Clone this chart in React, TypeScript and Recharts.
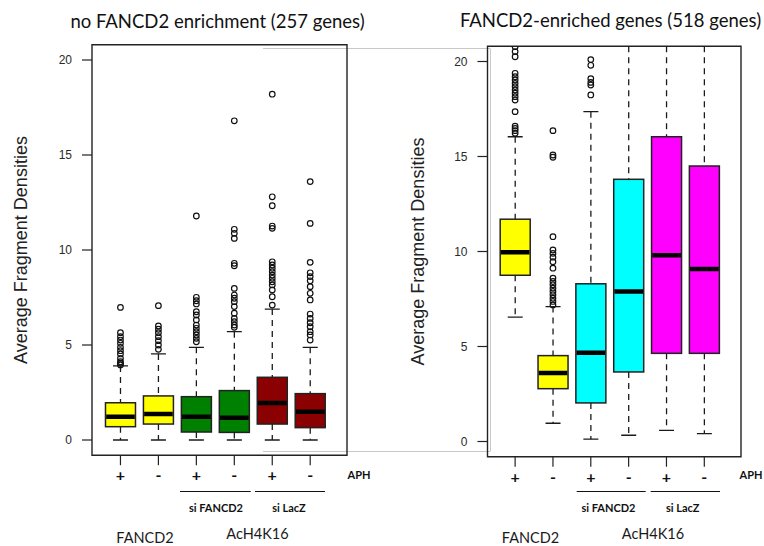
import React from 'react';
import { ComposedChart, Bar, Scatter, XAxis, YAxis, ReferenceArea } from 'recharts';

const positions = [1, 2, 3, 4, 5, 6];
const aphLabels = ['+', '-', '+', '-', '+', '-'];
const yTicks = [0, 5, 10, 15, 20];
const Y_DOMAIN: [number, number] = [-0.8, 20.8];

// no FANCD2 enrichment (257 genes)
const leftColors = ['#ffff00', '#ffff00', '#008000', '#008000', '#8b0000', '#8b0000'];
const leftLower = [0, 0, 0, 0, 0, 0];
const leftQ1 = [0.7, 0.84, 0.42, 0.4, 0.84, 0.65];
const leftMedian = [1.23, 1.37, 1.23, 1.17, 1.95, 1.49];
const leftQ3 = [1.96, 2.32, 2.28, 2.6, 3.3, 2.44];
const leftUpper = [3.9, 4.53, 4.88, 5.7, 6.89, 4.88];
const leftOutliers = [
  [3.95, 4.04, 4.12, 4.3, 4.53, 4.7, 4.88, 5.09, 5.26, 5.44, 5.65, 6.98],
  [4.77, 5.0, 5.23, 5.44, 5.65, 5.83, 6.0, 7.07],
  [5.17, 5.35, 5.53, 5.7, 5.88, 6.05, 6.32, 6.58, 6.75, 7.16, 7.33, 7.51, 11.79],
  [5.93, 6.05, 6.23, 6.4, 6.67, 7.02, 7.28, 7.46, 7.63, 7.98, 9.17, 9.3, 10.61, 10.88, 11.09, 16.8],
  [7.1, 7.54, 7.9, 8.16, 8.33, 8.51, 8.68, 8.86, 9.04, 9.21, 9.38, 11.14, 11.26, 12.33, 12.8, 18.2],
  [5.26, 5.53, 5.7, 5.96, 6.17, 6.4, 6.63, 7.37, 7.72, 8.07, 8.38, 8.6, 8.8, 9.35, 11.4, 13.6],
];

// FANCD2-enriched genes (518 genes)
const rightColors = ['#ffff00', '#ffff00', '#00ffff', '#00ffff', '#ff00ff', '#ff00ff'];
const rightLower = [6.55, 0.96, 0.12, 0.33, 0.59, 0.41];
const rightQ1 = [8.75, 2.78, 2.03, 3.66, 4.64, 4.64];
const rightMedian = [9.96, 3.6, 4.67, 7.9, 9.8, 9.08];
const rightQ3 = [11.7, 4.52, 8.3, 13.8, 16.04, 14.5];
const rightUpper = [16.04, 7.1, 17.36, 24, 26, 25]; // last three run off the top
const rightOutliers = [
  [16.22, 16.36, 16.48, 16.6, 17.36, 17.97, 18.15, 18.33, 18.5, 18.68, 18.85, 19.03, 19.2, 19.38, 20.25, 20.52, 20.78],
  [7.19, 7.37, 7.54, 7.72, 7.9, 8.07, 8.25, 8.42, 8.6, 9.12, 9.46, 9.7, 9.9, 10.08, 10.78, 14.96, 15.08, 16.36],
  [18.24, 18.76, 18.9, 19.1, 19.8, 20.1],
  [],
  [],
  [],
];

const buildBoxes = (colors: string[], lo: number[], q1: number[], med: number[], q3: number[], hi: number[]) =>
  positions.map((pos, i) => ({
    pos,
    range: [q1[i], q3[i]],
    q1: q1[i],
    q3: q3[i],
    median: med[i],
    lo: lo[i],
    hi: hi[i],
    fill: colors[i],
  }));

const buildOutliers = (lists: number[][]) =>
  lists.flatMap((vals, i) => vals.map(v => ({ pos: positions[i], v })));

const BoxShape = (props: any) => {
  const { x, y, width, height, payload } = props;
  if (x == null || y == null || !payload) return null;
  const top = Math.min(y, y + height);
  const h = Math.abs(height);
  // linear y scale, read back from the bar the library placed
  const ppu = h / (payload.q3 - payload.q1);
  const toY = (v: number) => top + (payload.q3 - v) * ppu;
  const cx = x + width / 2;
  const cap = width / 2;
  const clipHi = payload.hi > Y_DOMAIN[1];
  const yHi = toY(clipHi ? Y_DOMAIN[1] : payload.hi);
  const yLo = toY(payload.lo);
  const yMed = toY(payload.median);
  const ink = '#1a1a1a';
  return (
    <g>
      <line x1={cx} x2={cx} y1={yHi} y2={top} stroke={ink} strokeWidth={1.3} strokeDasharray="6 5" />
      <line x1={cx} x2={cx} y1={top + h} y2={yLo} stroke={ink} strokeWidth={1.3} strokeDasharray="6 5" />
      {!clipHi && <line x1={cx - cap / 2} x2={cx + cap / 2} y1={yHi} y2={yHi} stroke={ink} strokeWidth={1.3} />}
      <line x1={cx - cap / 2} x2={cx + cap / 2} y1={yLo} y2={yLo} stroke={ink} strokeWidth={1.3} />
      <rect x={x} y={top} width={width} height={h} fill={payload.fill} stroke="#222" strokeWidth={1.5} />
      <line x1={x + 0.7} x2={x + width - 0.7} y1={yMed} y2={yMed} stroke="#000" strokeWidth={4.5} />
    </g>
  );
};

const OutlierDot = (props: any) => {
  const { cx, cy } = props;
  if (cx == null || cy == null) return null;
  return <circle cx={cx} cy={cy} r={2.8} fill="none" stroke="#111" strokeWidth={1.2} />;
};

const AphTick = (props: any) => {
  const { x, y, payload } = props;
  return (
    <text x={x} y={y} dy={14} textAnchor="middle" fontSize={16} fontWeight={700} fontFamily="Lato, sans-serif" fill="#111">
      {aphLabels[payload.value - 1]}
    </text>
  );
};

interface PanelProps {
  left: number;
  width: number;
  top: number;
  bottom: number;
  yAxisWidth: number;
  right: number;
  xDomain: [number, number];
  labelX: number;
  boxes: any[];
  outliers: { pos: number; v: number }[];
}

const Panel: React.FC<PanelProps> = ({ left, width, top, bottom, yAxisWidth, right, xDomain, labelX, boxes, outliers }) => (
  <div style={{ position: 'absolute', left, top: 0 }}>
    <ComposedChart
      width={width}
      height={546}
      data={boxes}
      margin={{ top, right, bottom: 546 - bottom - 30, left: 0 }}
      style={{ fontFamily: '"Liberation Sans", Arial, sans-serif' }}
    >
      <XAxis
        type="number"
        dataKey="pos"
        domain={xDomain}
        ticks={positions}
        allowDataOverflow
        height={30}
        axisLine={false}
        tickLine={{ stroke: '#222', strokeWidth: 1.2 }}
        tickSize={10}
        tick={<AphTick />}
      />
      <YAxis
        type="number"
        domain={Y_DOMAIN}
        ticks={yTicks}
        allowDataOverflow
        width={yAxisWidth}
        axisLine={false}
        tickLine={{ stroke: '#222', strokeWidth: 1.2 }}
        tickSize={10}
        tickMargin={10}
        tick={{ fill: '#2a2a2a', fontSize: 12 }}
        label={(p: any) => {
          const vb = p.viewBox || {};
          const cy = (vb.y ?? top) + (vb.height ?? 0) / 2;
          return (
            <text
              x={labelX}
              y={cy}
              transform={`rotate(-90 ${labelX} ${cy})`}
              textAnchor="middle"
              fontSize={18}
              fill="#222"
              fontFamily='"Liberation Sans", Arial, sans-serif'
            >
              Average Fragment Densities
            </text>
          );
        }}
      />
      <ReferenceArea x1={xDomain[0]} x2={xDomain[1]} y1={Y_DOMAIN[0]} y2={Y_DOMAIN[1]} fill="none" stroke="#222" strokeWidth={1.4} fillOpacity={0} />
      <Bar dataKey="range" barSize={30} shape={<BoxShape />} isAnimationActive={false} />
      <Scatter data={outliers} dataKey="v" shape={<OutlierDot />} isAnimationActive={false} />
    </ComposedChart>
  </div>
);

const Annotations = () => {
  const sans = 'Lato, "Open Sans", sans-serif';
  const groups = [
    { fancd2: 145, ac: 257.5, aph: 359, lines: [[180, 250.7], [255, 325]], si: [216, 289] },
    { fancd2: 530.5, ac: 653, aph: 751, lines: [[576.7, 645.7], [650.7, 720]], si: [608.5, 682.7] },
  ];
  return (
    <svg width={764} height={546} style={{ position: 'absolute', left: 0, top: 0 }}>
      <g stroke="#c8c8c8" strokeWidth={1}>
        <line x1={263} x2={490} y1={48.5} y2={48.5} />
        <line x1={263} x2={490} y1={451.5} y2={451.5} />
        <line x1={490.5} x2={490.5} y1={48.5} y2={451.5} />
      </g>
      <text x={217.5} y={28} textAnchor="middle" fontSize={18.5} fontFamily={sans} fill="#111">
        no FANCD2 enrichment (257 genes)
      </text>
      <text x={610.5} y={27} textAnchor="middle" fontSize={18.5} fontFamily={sans} fill="#111">
        FANCD2-enriched genes (518 genes)
      </text>
      {groups.map((g, i) => (
        <g key={i}>
          <text x={g.aph} y={478.5} textAnchor="middle" fontSize={11} fontWeight={700} fontFamily={sans} fill="#111">APH</text>
          {g.lines.map(([a, b], j) => (
            <line key={j} x1={a} x2={b} y1={491.5} y2={491.5} stroke="#111" strokeWidth={1.2} />
          ))}
          <text x={g.si[0]} y={512} textAnchor="middle" fontSize={11} fontWeight={700} fontFamily={sans} fill="#111">si FANCD2</text>
          <text x={g.si[1]} y={512} textAnchor="middle" fontSize={11} fontWeight={700} fontFamily={sans} fill="#111">si LacZ</text>
          <text x={g.fancd2} y={543} textAnchor="middle" fontSize={14.5} fontFamily={sans} fill="#1a1a1a">FANCD2</text>
          <text x={g.ac} y={539} textAnchor="middle" fontSize={14.5} fontFamily={sans} fill="#1a1a1a">AcH4K16</text>
        </g>
      ))}
    </svg>
  );
};

const leftBoxes = buildBoxes(leftColors, leftLower, leftQ1, leftMedian, leftQ3, leftUpper);
const rightBoxes = buildBoxes(rightColors, rightLower, rightQ1, rightMedian, rightQ3, rightUpper);

export default function App() {
  return (
    <div style={{ position: 'absolute', left: 0, top: 0, width: 764, height: 546, background: '#fff' }}>
      <Annotations />
      <Panel
        left={0}
        width={400}
        top={44.8}
        bottom={455.2}
        yAxisWidth={92}
        right={53}
        xDomain={[0.25, 6.97]}
        labelX={27}
        boxes={leftBoxes}
        outliers={buildOutliers(leftOutliers)}
      />
      <Panel
        left={390}
        width={374}
        top={46.3}
        bottom={456.7}
        yAxisWidth={97.5}
        right={23}
        xDomain={[0.27, 6.97]}
        labelX={34}
        boxes={rightBoxes}
        outliers={buildOutliers(rightOutliers)}
      />
    </div>
  );
}
